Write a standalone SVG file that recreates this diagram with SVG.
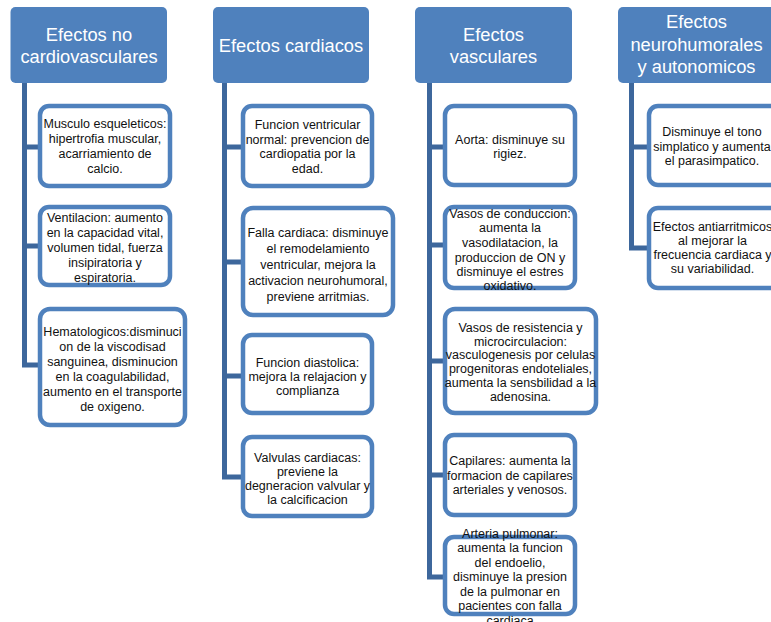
<svg xmlns="http://www.w3.org/2000/svg" width="771" height="622" viewBox="0 0 771 622">
<style>
.hdr{fill:#4F81BD;stroke:none}
.ht{font-family:"Liberation Sans",Arial,sans-serif;font-size:18.3px;fill:#FFFFFF;text-anchor:middle}
.box{fill:#FFFFFF;stroke:#4F81BD;stroke-width:4.5}
.bt{font-family:"Liberation Sans",Arial,sans-serif;font-size:12.5px;fill:#111111;text-anchor:middle}
.con{stroke:#3D679C;stroke-width:5;fill:none;stroke-linejoin:miter}
</style>
<rect width="771" height="622" fill="#FFFFFF"/>
<g id="connectors">
<path class="con" d="M24.5,83 V367.5 M24.5,147 H40 M24.5,246 H40 M24.5,365 H40"/>
<path class="con" d="M224.5,83 V479.5 M224.5,147 H243 M224.5,262 H243 M224.5,376 H243 M224.5,477 H243"/>
<path class="con" d="M429.5,83 V579.5 M429.5,147 H445 M429.5,245 H445 M429.5,361 H445 M429.5,475 H445 M429.5,577 H445"/>
<path class="con" d="M631.5,83 V250.5 M631.5,147 H649 M631.5,248 H649"/>
</g>
<g id="h1"><rect class="hdr" x="10.5" y="7" width="156.5" height="76" rx="5"/>
<text class="ht" x="89" y="41">Efectos no</text><text class="ht" x="89" y="63">cardiovasculares</text></g>
<g id="h2"><rect class="hdr" x="213" y="7" width="156" height="76" rx="5"/>
<text class="ht" x="291" y="52">Efectos cardiacos</text></g>
<g id="h3"><rect class="hdr" x="415" y="7" width="157" height="76" rx="5"/>
<text class="ht" x="493.5" y="41">Efectos</text><text class="ht" x="493.5" y="63">vasculares</text></g>
<g id="h4"><rect class="hdr" x="618" y="7" width="158" height="76" rx="5"/>
<text class="ht" x="696.5" y="28">Efectos</text><text class="ht" x="696.5" y="51">neurohumorales</text><text class="ht" x="696.5" y="73">y autonomicos</text></g>

<g id="c1b1"><rect class="box" x="40" y="106" width="130" height="80" rx="9"/>
<text class="bt" x="105" y="128">Musculo esqueleticos:</text><text class="bt" x="105" y="143">hipertrofia muscular,</text><text class="bt" x="105" y="158">acarriamiento de</text><text class="bt" x="105" y="173">calcio.</text></g>
<g id="c1b2"><rect class="box" x="40" y="207" width="130" height="78" rx="9"/>
<text class="bt" x="105" y="222">Ventilacion: aumento</text><text class="bt" x="105" y="237">en la capacidad vital,</text><text class="bt" x="105" y="252">volumen tidal, fuerza</text><text class="bt" x="105" y="267">insipiratoria y</text><text class="bt" x="105" y="282">espiratoria.</text></g>
<g id="c1b3"><rect class="box" x="40" y="309" width="145" height="116" rx="10"/>
<text class="bt" x="112.5" y="336">Hematologicos:disminuci</text><text class="bt" x="112.5" y="351">on de la viscodisad</text><text class="bt" x="112.5" y="366">sanguinea, disminucion</text><text class="bt" x="112.5" y="381">en la coagulabilidad,</text><text class="bt" x="112.5" y="396">aumento en el transporte</text><text class="bt" x="112.5" y="411">de oxigeno.</text></g>

<g id="c2b1"><rect class="box" x="243" y="106" width="129" height="80" rx="9"/>
<text class="bt" x="307.5" y="129">Funcion ventricular</text><text class="bt" x="307.5" y="143.5">normal: prevencion de</text><text class="bt" x="307.5" y="158">cardiopatia por la</text><text class="bt" x="307.5" y="172.5">edad.</text></g>
<g id="c2b2"><rect class="box" x="243" y="208" width="150" height="107" rx="10"/>
<text class="bt" x="318" y="237">Falla cardiaca: disminuye</text><text class="bt" x="318" y="253">el remodelamiento</text><text class="bt" x="318" y="269">ventricular, mejora la</text><text class="bt" x="318" y="285">activacion neurohumoral,</text><text class="bt" x="318" y="301">previene arritmias.</text></g>
<g id="c2b3"><rect class="box" x="243" y="335" width="129" height="78" rx="9"/>
<text class="bt" x="307.5" y="367">Funcion diastolica:</text><text class="bt" x="307.5" y="381">mejora la relajacion y</text><text class="bt" x="307.5" y="395">complianza</text></g>
<g id="c2b4"><rect class="box" x="243" y="437" width="129" height="79" rx="9"/>
<text class="bt" x="307.5" y="462">Valvulas cardiacas:</text><text class="bt" x="307.5" y="476">previene la</text><text class="bt" x="307.5" y="490">degneracion valvular y</text><text class="bt" x="307.5" y="504">la calcificacion</text></g>

<g id="c3b1"><rect class="box" x="445" y="106" width="130" height="79" rx="9"/>
<text class="bt" x="510" y="144">Aorta: disminuye su</text><text class="bt" x="510" y="158">rigiez.</text></g>
<g id="c3b2"><rect class="box" x="445" y="207" width="130" height="81" rx="9"/>
<text class="bt" x="510" y="218">Vasos de conduccion:</text><text class="bt" x="510" y="232">aumenta la</text><text class="bt" x="510" y="247">vasodilatacion, la</text><text class="bt" x="510" y="262">produccion de ON y</text><text class="bt" x="510" y="276">disminuye el estres</text><text class="bt" x="510" y="290">oxidativo.</text></g>
<g id="c3b3"><rect class="box" x="445" y="309" width="151" height="104" rx="10"/>
<text class="bt" x="520.5" y="332">Vasos de resistencia y</text><text class="bt" x="520.5" y="345.5">microcirculacion:</text><text class="bt" x="520.5" y="359">vasculogenesis por celulas</text><text class="bt" x="520.5" y="373">progenitoras endoteliales,</text><text class="bt" x="520.5" y="387">aumenta la sensbilidad a la</text><text class="bt" x="520.5" y="401">adenosina.</text></g>
<g id="c3b4"><rect class="box" x="445" y="435" width="130" height="80" rx="9"/>
<text class="bt" x="510" y="465">Capilares: aumenta la</text><text class="bt" x="510" y="479.5">formacion de capilares</text><text class="bt" x="510" y="494">arteriales y venosos.</text></g>
<g id="c3b5"><rect class="box" x="445" y="537" width="130" height="77" rx="9"/>
<text class="bt" x="510" y="537.5">Arteria pulmonar:</text><text class="bt" x="510" y="552">aumenta la funcion</text><text class="bt" x="510" y="566.5">del endoelio,</text><text class="bt" x="510" y="581">disminuye la presion</text><text class="bt" x="510" y="595.5">de la pulmonar en</text><text class="bt" x="510" y="610">pacientes con falla</text><text class="bt" x="510" y="624.5">cardiaca</text></g>

<g id="c4b1"><rect class="box" x="649" y="106" width="130" height="79" rx="9"/>
<text class="bt" x="712" y="136">Disminuye el tono</text><text class="bt" x="712" y="151">simplatico y aumenta</text><text class="bt" x="712" y="165">el parasimpatico.</text></g>
<g id="c4b2"><rect class="box" x="649" y="208" width="130" height="80" rx="9"/>
<text class="bt" x="712.5" y="231">Efectos antiarritmicos</text><text class="bt" x="712.5" y="245">al mejorar la</text><text class="bt" x="712.5" y="259">frecuencia cardiaca y</text><text class="bt" x="712.5" y="273">su variabilidad.</text></g>
</svg>
